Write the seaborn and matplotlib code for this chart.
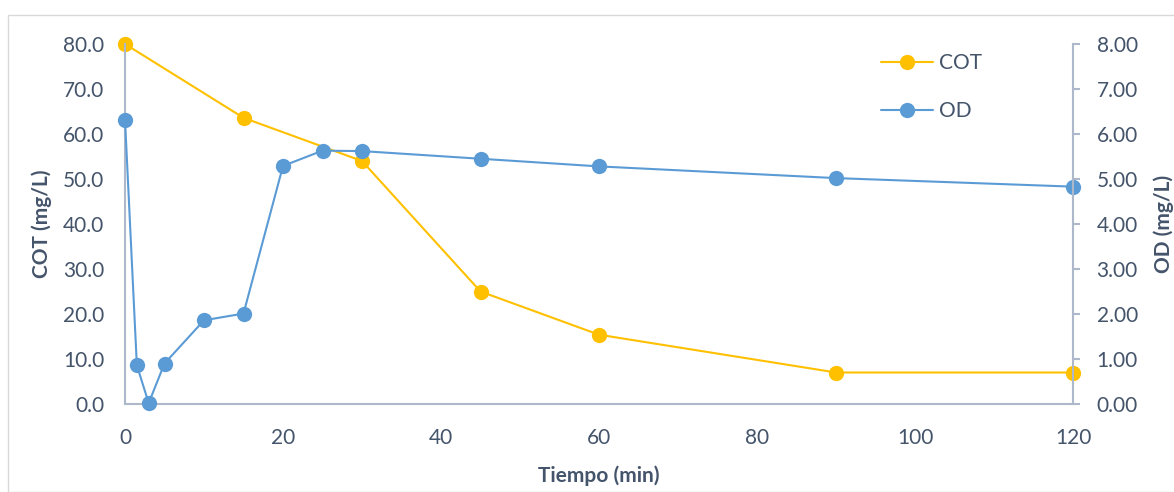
import matplotlib
matplotlib.use("Agg")
import matplotlib.pyplot as plt
import seaborn as sns
import pandas as pd
from matplotlib.patches import Rectangle

# Data
cot_time = [0, 15, 30, 45, 60, 90, 120]
cot_values = [80.0, 63.6, 54.0, 25.0, 15.4, 7.0, 7.0]
od_time = [0, 1.5, 3, 5, 10, 15, 20, 25, 30, 45, 60, 90, 120]
od_values = [6.32, 0.86, 0.02, 0.90, 1.86, 2.01, 5.29, 5.63, 5.62, 5.45, 5.28, 5.02, 4.83]
x_ticks = [0, 20, 40, 60, 80, 100, 120]
left_ticks = [0, 10, 20, 30, 40, 50, 60, 70, 80]
right_ticks = [0, 1, 2, 3, 4, 5, 6, 7, 8]

COT_C = "#FFC000"
OD_C = "#5B9BD5"
TXT = "#44546A"
SPINE = "#ADB9CA"

sns.set_theme(style="white")
plt.rcParams["font.family"] = ["Lato", "DejaVu Sans"]

fig = plt.figure(figsize=(11.74, 4.92), dpi=100)
ax = fig.add_axes([125/1174, 1-404/492, (1073-125)/1174, (404-44)/492])
ax2 = ax.twinx()

cot_df = pd.DataFrame({"t": cot_time, "v": cot_values})
od_df = pd.DataFrame({"t": od_time, "v": od_values})

sns.lineplot(data=cot_df, x="t", y="v", ax=ax, color=COT_C, marker="o",
             markersize=11, markeredgewidth=0, linewidth=1.5, label="COT", legend=False)
sns.lineplot(data=od_df, x="t", y="v", ax=ax2, color=OD_C, marker="o",
             markersize=11, markeredgewidth=0, linewidth=1.5, label="OD", legend=False)

ax.set_xlim(0, 120)
ax.set_ylim(0, 80)
ax2.set_ylim(0, 8)
ax.set_xticks(x_ticks)
ax.set_yticks(left_ticks)
ax2.set_yticks(right_ticks)
ax.set_yticklabels([f"{v:.1f}" for v in left_ticks])
ax2.set_yticklabels([f"{v:.2f}" for v in right_ticks])

for a in (ax, ax2):
    for s in a.spines.values():
        s.set_visible(False)
    a.patch.set_visible(False)
ax.spines["left"].set_visible(True)
ax.spines["bottom"].set_visible(True)
ax2.spines["right"].set_visible(True)
for s in (ax.spines["left"], ax.spines["bottom"], ax2.spines["right"]):
    s.set_color(SPINE)
    s.set_linewidth(1.5)

for line in ax.lines + ax2.lines:
    line.set_clip_on(False)

FS = 15
ax.tick_params(axis="x", length=0, labelsize=FS, labelcolor=TXT, pad=17)
ax.tick_params(axis="y", length=0, labelsize=FS, labelcolor=TXT, pad=15)
ax2.tick_params(axis="y", length=5, width=1.5, color=SPINE, labelsize=FS,
                labelcolor=TXT, pad=12, direction="out")

ax.set_xlabel("Tiempo (min)", fontsize=15, fontweight="bold", color=TXT, labelpad=13)
ax.set_ylabel("COT (mg/L)", fontsize=15, fontweight="bold", color=TXT, labelpad=8)
ax2.set_ylabel("OD (mg/L)", fontsize=15, fontweight="bold", color=TXT, labelpad=11)

handles = ax.get_lines()[:1] + ax2.get_lines()[:1]
leg = ax2.legend(handles, ["COT", "OD"], loc="upper left",
                 bbox_to_anchor=((881-125)/948, (404-53)/360), frameon=False,
                 borderpad=0, borderaxespad=0,
                 fontsize=FS, labelspacing=1.35, handlelength=2.5, handletextpad=0.3)
for t in leg.get_texts():
    t.set_color(TXT)

fig.patches.append(Rectangle((8/1174, 0), 1.5, 1-15/492, transform=fig.transFigure,
                             fill=False, edgecolor="#D9D9D9", linewidth=1.0))

fig.savefig("out.png", dpi=100)
